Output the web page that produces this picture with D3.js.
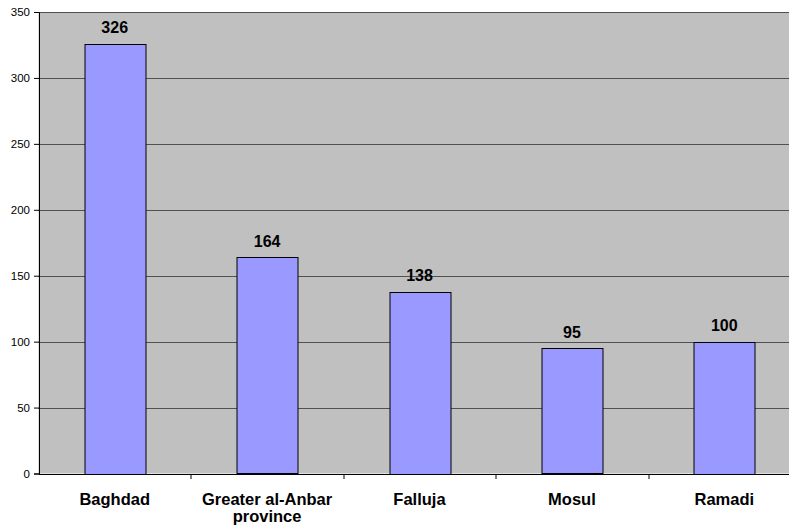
<!DOCTYPE html>
<html>
<head>
<meta charset="utf-8">
<script src="https://cdn.jsdelivr.net/npm/d3@7"></script>
<style>
  body { margin: 0; background: #fff; }
  text { font-family: "Liberation Sans", Arial, sans-serif; }
</style>
</head>
<body>
<svg id="chart" width="789" height="529"></svg>
<script>
// chart data
var categories = ["Baghdad", "Greater al-Anbar province", "Falluja", "Mosul", "Ramadi"];
var labelLines = [["Baghdad"], ["Greater al-Anbar", "province"], ["Falluja"], ["Mosul"], ["Ramadi"]];
var values = [326, 164, 138, 95, 100];
var yTicks = [0, 50, 100, 150, 200, 250, 300, 350];

var margin = { top: 12, left: 38.5 };
var plotW = 762, plotH = 461.5;

var svg = d3.select("#chart");
var g = svg.append("g")
  .attr("transform", "translate(" + margin.left + "," + margin.top + ")");

var x = d3.scaleBand().domain(categories).range([0, plotW]).paddingInner(0.6).paddingOuter(0.3);
var xb = d3.scaleBand().domain(categories).range([0, plotW]);
var y = d3.scaleLinear().domain([0, 350]).range([plotH, 0]);

g.append("rect")
  .attr("width", plotW).attr("height", plotH)
  .attr("fill", "#c0c0c0");

// gridlines
g.selectAll(".grid").data(yTicks.filter(function(d) { return d > 0; }))
  .enter().append("line")
  .attr("x1", 0).attr("x2", plotW)
  .attr("y1", function(d) { return Math.round(y(d)) + 0.5; })
  .attr("y2", function(d) { return Math.round(y(d)) + 0.5; })
  .attr("stroke", "#505050").attr("stroke-width", 1);

// bars
g.selectAll(".bar").data(values)
  .enter().append("rect")
  .attr("x", function(d, i) { return Math.round(x(categories[i])) + 0.5; })
  .attr("y", function(d) { return Math.round(y(d)) + 0.5; })
  .attr("width", Math.round(x.bandwidth()))
  .attr("height", function(d) { return Math.round(plotH - y(d)); })
  .attr("fill", "#9999ff").attr("stroke", "#000").attr("stroke-width", 1);

// value labels
g.selectAll(".val").data(values)
  .enter().append("text")
  .attr("x", function(d, i) { return x(categories[i]) + x.bandwidth() / 2; })
  .attr("y", function(d) { return y(d) - 10.5; })
  .attr("text-anchor", "middle")
  .attr("font-size", "16px").attr("font-weight", "bold")
  .text(function(d) { return d; });

// y axis
var yAxis = d3.axisLeft(y).tickValues(yTicks).tickSize(5).tickPadding(4);
var ya = g.append("g").attr("transform", "translate(0.5,0)").call(yAxis);
ya.selectAll("text").attr("font-size", "11.5px").attr("fill", "#000")
  .style("font-family", "'Liberation Sans', Arial, sans-serif");
ya.select(".domain").attr("stroke", "#000");

// x axis
var xAxis = d3.axisBottom(xb).tickSize(0).tickFormat("");
var xa = g.append("g").attr("transform", "translate(0," + (plotH + 0.5) + ")").call(xAxis);
xa.select(".domain").attr("stroke", "#000");
xa.selectAll(".sep").data(categories.slice(1))
  .enter().append("line").attr("class", "sep")
  .attr("x1", function(d) { return Math.round(xb(d)) + 0.5; })
  .attr("x2", function(d) { return Math.round(xb(d)) + 0.5; })
  .attr("y1", 0).attr("y2", 5)
  .attr("stroke", "#000");

// category labels
var cl = g.selectAll(".cat").data(categories)
  .enter().append("text")
  .attr("x", function(d) { return xb(d) + xb.bandwidth() / 2; })
  .attr("y", plotH + 31.5)
  .attr("text-anchor", "middle")
  .attr("font-size", "16.5px").attr("font-weight", "bold");
cl.selectAll("tspan").data(function(d, i) { return labelLines[i]; })
  .enter().append("tspan")
  .attr("x", function() { return d3.select(this.parentNode).attr("x"); })
  .attr("dy", function(d, i) { return i ? 17 : 0; })
  .text(function(d) { return d; });
</script>
</body>
</html>
